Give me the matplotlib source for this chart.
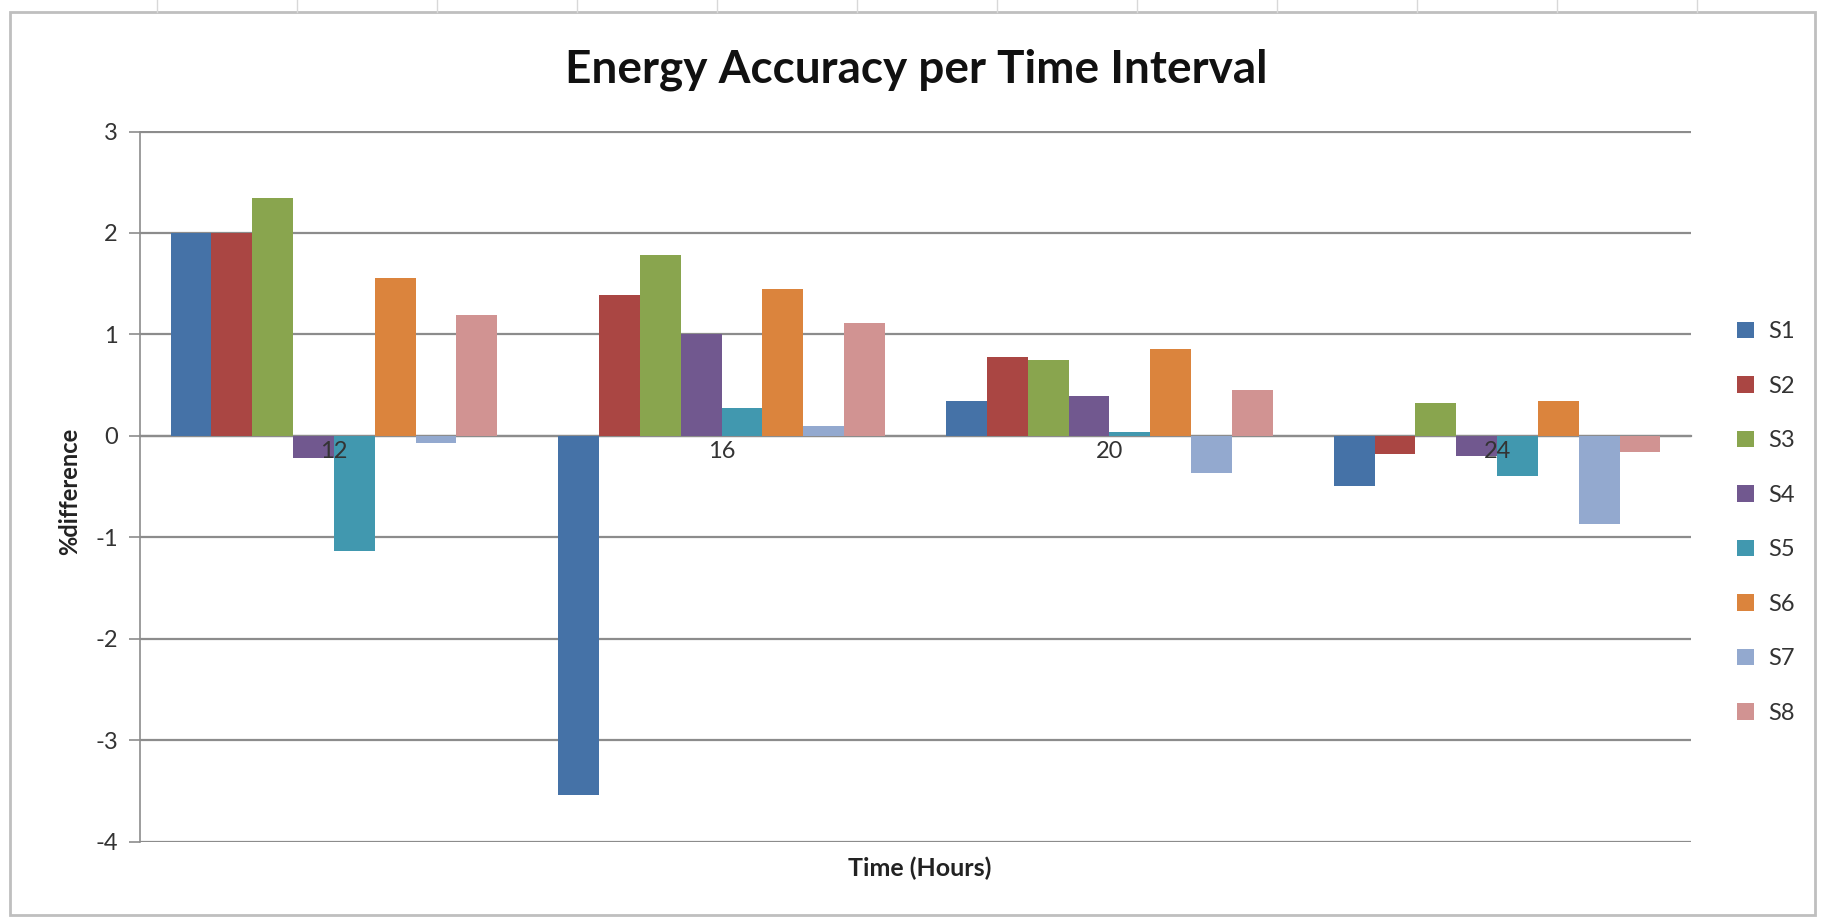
import matplotlib
matplotlib.use("Agg")
import matplotlib.pyplot as plt
import numpy as np
from matplotlib.patches import Rectangle
from matplotlib.lines import Line2D

categories = ["12", "16", "20", "24"]
series_names = ["S1", "S2", "S3", "S4", "S5", "S6", "S7", "S8"]
S1 = [2.00, -3.54, 0.34, -0.49]
S2 = [2.00, 1.39, 0.78, -0.18]
S3 = [2.34, 1.78, 0.75, 0.32]
S4 = [-0.22, 1.00, 0.39, -0.20]
S5 = [-1.14, 0.27, 0.04, -0.40]
S6 = [1.56, 1.45, 0.86, 0.34]
S7 = [-0.07, 0.10, -0.37, -0.87]
S8 = [1.19, 1.11, 0.45, -0.16]
colors = ["#4572A7", "#AA4643", "#89A54E", "#71588F",
          "#4198AF", "#DB843D", "#93A9CF", "#D19392"]
yticks = [-4, -3, -2, -1, 0, 1, 2, 3]

plt.rcParams['font.family'] = ['Lato', 'DejaVu Sans']

W, H = 1825, 919
fig = plt.figure(figsize=(W / 100, H / 100), dpi=100)
fig.patch.set_facecolor("white")

# spreadsheet background hints and chart area border
for xv in range(157, W, 140):
    fig.add_artist(Line2D([xv / W, xv / W], [1 - 0 / H, 1 - 12 / H],
                          color="#d8d8d8", lw=1))
fig.add_artist(Rectangle((10 / W, 4 / H), (W - 20) / W, (H - 16) / H,
                         fill=False, edgecolor="#bfbfbf", lw=2))

ax = fig.add_axes([140 / W, 1 - 841.6 / H, (1691 - 140) / W, (841.6 - 131.5) / H])

data = [S1, S2, S3, S4, S5, S6, S7, S8]
n = len(data)
x = np.arange(len(categories))
group = 1.0
bw = group / (n + 1.5)
for i, (vals, c, name) in enumerate(zip(data, colors, series_names)):
    off = (i - (n - 1) / 2) * bw
    ax.bar(x + off, vals, width=bw, color=c, label=name, zorder=3, linewidth=0)

ax.set_xlim(-0.5, len(categories) - 0.5)
ax.set_ylim(-4, 3)
ax.set_yticks(yticks)
ax.set_yticklabels([str(t) for t in yticks], fontsize=17, color="#333333")
ax.yaxis.grid(True, color="#8c8c8c", lw=1.6, zorder=0)
ax.tick_params(axis="y", length=8, width=1.2, color="#8c8c8c", pad=8)

ax.spines["top"].set_visible(False)
ax.spines["right"].set_visible(False)
ax.spines["left"].set_color("#8c8c8c")
ax.spines["left"].set_linewidth(1.2)
ax.spines["bottom"].set_position(("data", 0))
ax.spines["bottom"].set_color("#8c8c8c")
ax.spines["bottom"].set_linewidth(1.6)
ax.set_xticks(x)
ax.set_xticklabels(categories, fontsize=17, color="#333333")
ax.tick_params(axis="x", length=0, pad=4)
ax.xaxis.set_zorder(5)

fig.text(916 / W, 1 - 70 / H, "Energy Accuracy per Time Interval",
         ha="center", va="center", fontsize=33, fontweight="bold", color="#111111")
fig.text(920 / W, 1 - 868 / H, "Time (Hours)", ha="center", va="center",
         fontsize=18, fontweight="bold", color="#222222")
fig.text(70 / W, 1 - 491 / H, "%difference", ha="center", va="center",
         rotation=90, fontsize=17, fontweight="bold", color="#222222")

leg = fig.legend(loc="upper left", bbox_to_anchor=(1716 / W, 1 - 300 / H),
                 frameon=False, fontsize=17, handlelength=0.7, handleheight=0.7,
                 labelspacing=1.42, handletextpad=0.6)
for t in leg.get_texts():
    t.set_color("#333333")

fig.savefig("out.png", dpi=100)
